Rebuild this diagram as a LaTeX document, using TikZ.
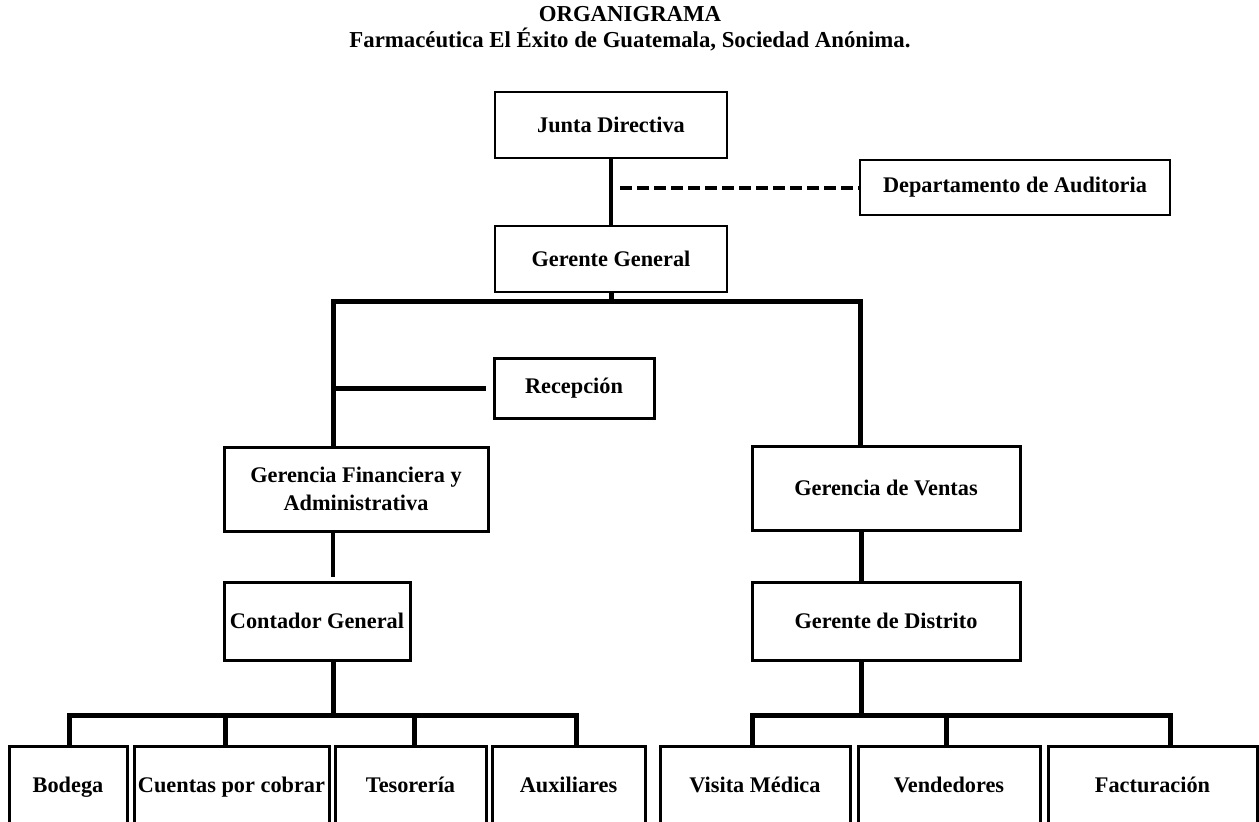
\documentclass[tikz,border=0pt]{standalone}
\usepackage{fontspec}
\setmainfont{Liberation Serif}
\usetikzlibrary{positioning,calc}

\begin{document}
\begin{tikzpicture}[
  x=1pt, y=-1pt,
  box/.style={
    draw, line width=3pt, align=center, inner sep=0pt,
    font=\fontsize{22.3}{28}\selectfont\bfseries
  },
  thinbox/.style={box, line width=2pt},
  lowbox/.style={box, minimum height=80pt, text height=15.5pt, text depth=2pt},
  conn/.style={line width=5pt},
  thinconn/.style={line width=3.5pt},
  dashconn/.style={line width=4pt, dash pattern=on 12pt off 5pt}
]
\useasboundingbox (0,0) rectangle (1259,822);
\clip (0,0) rectangle (1259,822);

% title
\node[align=center, font=\fontsize{22.8}{26}\selectfont\bfseries] (titulo) at (630,29)
  {ORGANIGRAMA\\Farmacéutica El Éxito de Guatemala, Sociedad Anónima.};

% upper levels
\node[thinbox, minimum width=232pt, minimum height=66pt] (junta) at (611,125) {Junta Directiva};
\node[thinbox, minimum width=232pt, minimum height=66pt] (gerente) at (611,259) {Gerente General};
\node[thinbox, minimum width=310pt, minimum height=55pt] (auditoria) at (1015,187.5) {Departamento de Auditoria};
\node[box, minimum width=160pt, minimum height=60pt] (recepcion) at (574,388) {Recepción};
\node[box, minimum width=264pt, minimum height=84pt] (financiera) at (356,489) {Gerencia Financiera y\\Administrativa};
\node[box, minimum width=268pt, minimum height=84pt] (ventas) at (886,488) {Gerencia de Ventas};
\node[box, minimum width=186pt, minimum height=78pt] (contador) at (317,621) {Contador General};
\node[box, minimum width=268pt, minimum height=78pt] (distrito) at (886,621) {Gerente de Distrito};

% lowest level (cut by the page edge)
\node[lowbox, minimum width=118pt] (bodega) at (68,786) {Bodega};
\node[lowbox, minimum width=195pt] (cuentas) at (231.5,786) {Cuentas por cobrar};
\node[lowbox, minimum width=151pt] (tesoreria) at (410.5,786) {Tesorería};
\node[lowbox, minimum width=153pt] (auxiliares) at (568.5,786) {Auxiliares};
\node[lowbox, minimum width=190pt] (visita) at (755,786) {Visita Médica};
\node[lowbox, minimum width=182pt] (vendedores) at (949,786) {Vendedores};
\node[lowbox, minimum width=209pt] (facturacion) at (1152.5,786) {Facturación};

% column and bus points
\coordinate (ggbus) at ($(gerente.south)+(0,8)$);
\coordinate (fincol) at ([xshift=-23pt]financiera.north);
\coordinate (vencol) at ([xshift=-26pt]ventas.north);
\coordinate (cbus) at ([xshift=16pt]contador.south |- 0,715);
\coordinate (dbus) at ([xshift=-25pt]distrito.south |- 0,715);

% connectors
\draw[thinconn] (junta.south) -- (gerente.north);
\draw[dashconn, shorten <=9pt] (auditoria.west -| junta.south) -- (auditoria.west);
\draw[conn] (gerente.south) -- (ggbus);
\draw[conn] (fincol) |- (ggbus) -| (vencol);
\draw[conn] (fincol |- recepcion.west) -- ([xshift=-7pt]recepcion.west);
\draw[thinconn, shorten >=4pt] ([xshift=-23pt]financiera.south) -- ([xshift=16pt]contador.north);
\draw[conn] ([xshift=-25pt]ventas.south) -- ([xshift=-25pt]distrito.north);

\draw[conn] ([xshift=16pt]contador.south) -- (cbus);
\draw[conn] ([xshift=1pt]bodega.north) |- (cbus) -| ([xshift=8pt]auxiliares.north);
\draw[conn] ([xshift=-6pt]cuentas.north) -- ([xshift=-6pt]cuentas.north |- cbus);
\draw[conn] ([xshift=4pt]tesoreria.north) -- ([xshift=4pt]tesoreria.north |- cbus);

\draw[conn] ([xshift=-25pt]distrito.south) -- (dbus);
\draw[conn] ([xshift=-3pt]visita.north) |- (dbus) -| ([xshift=18pt]facturacion.north);
\draw[conn] ([xshift=-3pt]vendedores.north) -- ([xshift=-3pt]vendedores.north |- dbus);

\end{tikzpicture}
\end{document}
